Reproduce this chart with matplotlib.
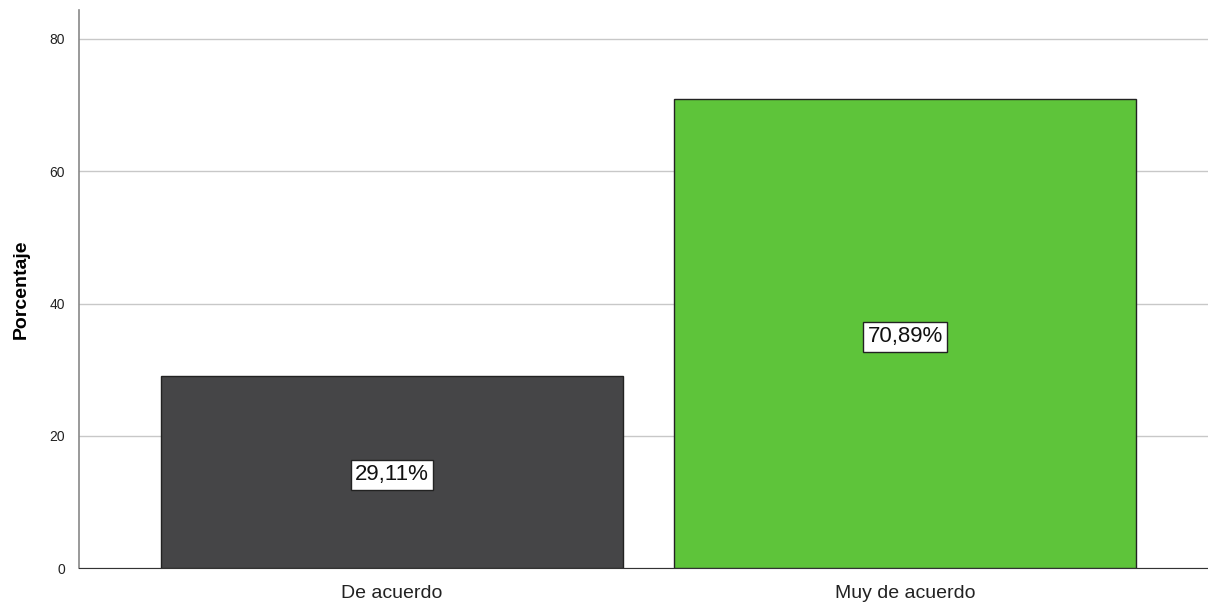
import matplotlib
matplotlib.use("Agg")
import matplotlib.pyplot as plt

categories = ["De acuerdo", "Muy de acuerdo"]
values = [29.11, 70.89]
labels = ["29,11%", "70,89%"]
colors = ["#454547", "#5ec43a"]
yticks = [0, 20, 40, 60, 80]

plt.rcParams['font.family'] = ['Liberation Sans', 'DejaVu Sans']

fig = plt.figure(figsize=(12.08, 6.02), dpi=100)
ax = fig.add_axes([79/1208, 1 - 568/602, 1 - 79/1208, (568 - 10)/602])

x = list(range(len(categories)))
bars = ax.bar(x, values, width=0.9, color=colors, edgecolor="#222222", linewidth=1.0, zorder=3)
for xi, v, lab in zip(x, values, labels):
    ax.text(xi, v / 2 - 0.45, lab, ha="center", va="center", fontsize=16, color="#111111", zorder=4,
            bbox=dict(boxstyle="square,pad=0.2", facecolor="white", edgecolor="#222222", linewidth=1.0))

ax.set_xlim(-0.61, 1.59)
ax.set_ylim(0, (568 - 10) / (529 / 80))
ax.set_yticks(yticks)
ax.set_yticklabels([str(t) for t in yticks], fontsize=10, color="#222222")
ax.set_xticks(x)
ax.set_xticklabels(categories, fontsize=14, color="#222222")
ax.tick_params(axis="x", length=0, pad=12)
ax.tick_params(axis="y", length=0, pad=10)
ax.yaxis.grid(True, color="#c8c8c8", linewidth=1.0, zorder=0)
ax.set_axisbelow(True)
ax.set_ylabel("Porcentaje", fontsize=14, fontweight="bold", labelpad=14)

ax.spines["top"].set_visible(False)
ax.spines["right"].set_visible(False)
ax.spines["left"].set_color("#888888")
ax.spines["left"].set_linewidth(1.2)
ax.spines["bottom"].set_color("#333333")

fig.savefig("out.png", dpi=100)
